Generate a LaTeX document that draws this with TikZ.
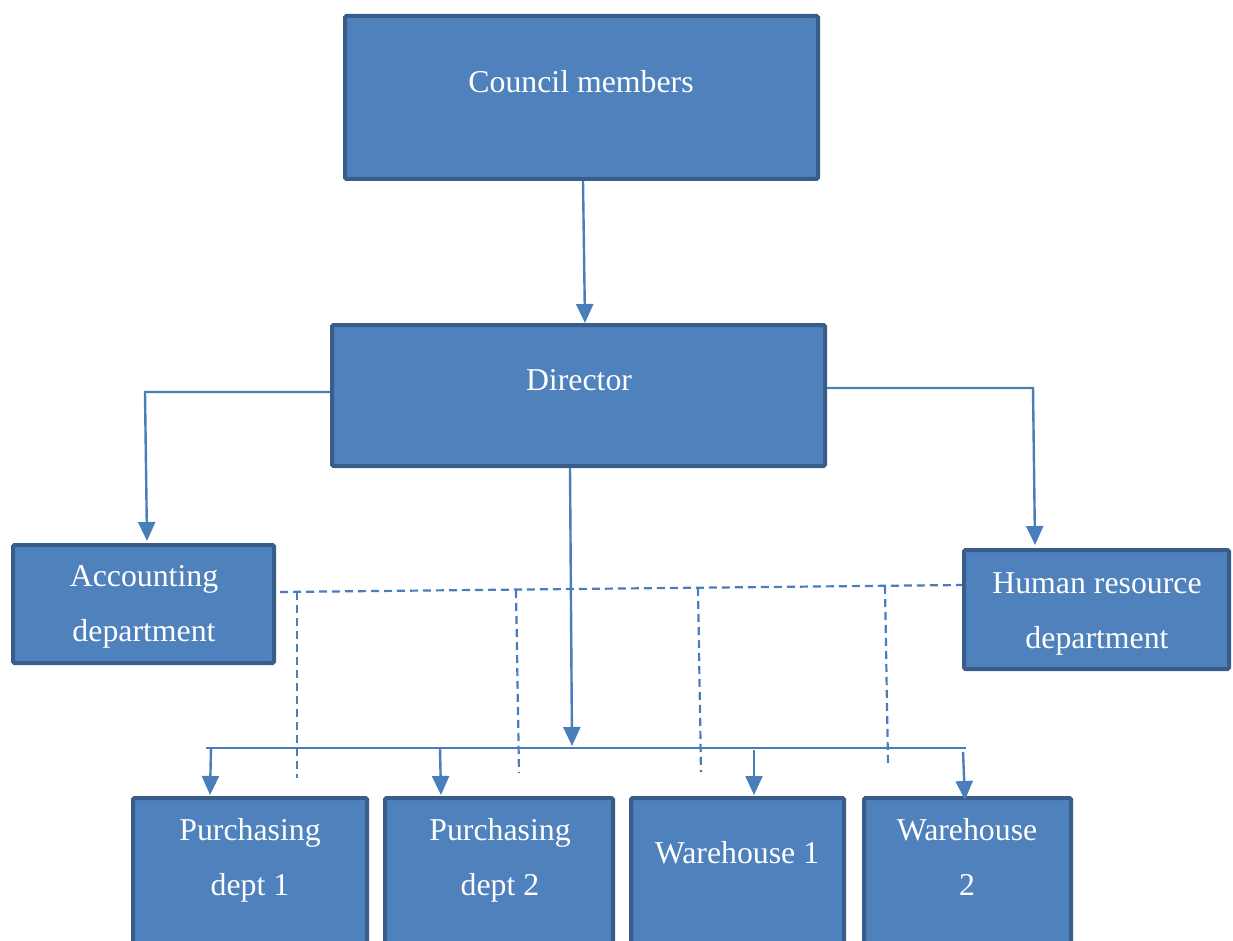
\documentclass[tikz,border=0pt]{standalone}
\usepackage{fontspec}
\setmainfont{Liberation Serif}
\usetikzlibrary{arrows.meta,calc}
\definecolor{boxfill}{HTML}{4F81BD}
\definecolor{boxline}{HTML}{385D8A}
\definecolor{connc}{HTML}{4A7EBB}
\begin{document}
\begin{tikzpicture}[x=1pt,y=-1pt,
  box/.style={draw=boxline, line width=4pt, fill=boxfill, inner sep=0pt, rounded corners=1.5pt},
  txt/.style={text=white, align=center, font=\fontsize{31.8}{55}\selectfont, inner sep=0pt},
  conn/.style={draw=connc, line width=2.4pt},
  arr/.style={conn, -{Triangle[width=17pt,length=19pt]}},
  dashline/.style={draw=connc, line width=2.2pt, dash pattern=on 8pt off 5pt}]
\useasboundingbox (0,0) rectangle (1233,941);
\clip (0,0) rectangle (1233,941);
% boxes
\node[box, minimum width=473pt, minimum height=163pt] (council) at (581.5,97.5) {};
\node[box, minimum width=493pt, minimum height=141pt] (dir) at (578.5,395.5) {};
\node[box, minimum width=261pt, minimum height=118pt] (acc) at (143.5,604) {};
\node[box, minimum width=265pt, minimum height=119pt] (hr) at (1096.5,609.5) {};
\node[box, minimum width=234pt, minimum height=162pt] (p1) at (250,879) {};
\node[box, minimum width=228pt, minimum height=162pt] (p2) at (499,879) {};
\node[box, minimum width=213pt, minimum height=162pt] (w1) at (737.5,879) {};
\node[box, minimum width=207pt, minimum height=162pt] (w2) at (967.5,879) {};
% texts
\node[txt] (tcouncil) at (581,82) {Council members};
\node[txt] (tdir) at (579,380) {Director};
\node[txt] (tacc) at (144,607) {Accounting\\department};
\node[txt] (thr) at (1097,613.5) {Human resource\\department};
\node[txt] (tp1) at (250,860) {Purchasing\\dept 1};
\node[txt] (tp2) at (500,860) {Purchasing\\dept 2};
\node[txt] (tw1) at (737,853) {Warehouse 1};
\node[txt] (tw2) at (967,856.5) {Warehouse\\2};
% connector points
\coordinate (cs) at (583,181);
\coordinate (de) at (585,323);
\coordinate (dl) at (330,392);
\coordinate (lc) at (145,392);
\coordinate (ae) at (147,541);
\coordinate (dr) at (827,388);
\coordinate (rc) at (1033,388);
\coordinate (he) at (1035,545);
\coordinate (ds) at (570,468);
\coordinate (be) at (572,746);
\coordinate (busL) at (206,748);
\coordinate (busR) at (966,748);
\coordinate (b1) at (211,748);
\coordinate (e1) at (210,795);
\coordinate (b2) at (440,748);
\coordinate (e2) at (441,795);
\coordinate (b3) at (754,750);
\coordinate (e3) at (754,795);
\coordinate (b4) at (963,752);
\coordinate (e4) at (965,800);
\coordinate (dashL) at (280,592);
\coordinate (dashR) at (962,585);
% solid connectors
\draw[arr] (cs) -- (de);
\draw[arr] (dl) -- (lc) -- (ae);
\draw[arr] (dr) -- (rc) -- (he);
\draw[arr] (ds) -- (be);
\draw[conn] (busL) -- (busR);
\draw[arr] (b1) -- (e1);
\draw[arr] (b2) -- (e2);
\draw[arr] (b3) -- (e3);
\draw[arr] (b4) -- (e4);
% dashed
\draw[dashline] (dashL) -- (dashR);
\coordinate (v1t) at (297,592); \coordinate (v1b) at (297,778);
\coordinate (v2t) at (516,590); \coordinate (v2b) at (519,773);
\coordinate (v3t) at (698,588); \coordinate (v3b) at (701,772);
\coordinate (v4t) at (885,586); \coordinate (v4b) at (888,766);
\draw[dashline] (v1t) -- (v1b);
\draw[dashline] (v2t) -- (v2b);
\draw[dashline] (v3t) -- (v3b);
\draw[dashline] (v4t) -- (v4b);
\end{tikzpicture}
\end{document}
